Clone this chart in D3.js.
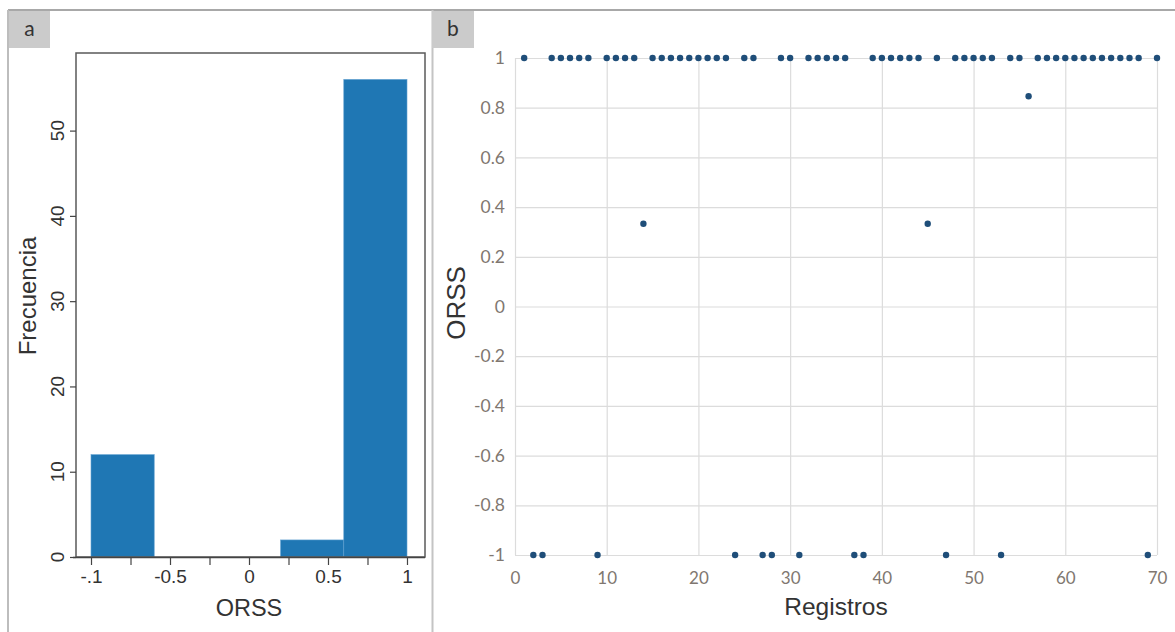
<!DOCTYPE html>
<html><head><meta charset="utf-8">
<script src="https://cdn.jsdelivr.net/npm/d3@7"></script>
<style>
html,body{margin:0;padding:0;background:#fff;}
svg{display:block;}
</style></head>
<body>
<svg id="c" width="1175" height="632"></svg>
<script>
// ---- data ----
const registros = d3.range(1, 71);
const orss = [1,-1,-1,1,1,1,1,1,-1,1,
              1,1,1,0.333,1,1,1,1,1,1,
              1,1,1,-1,1,1,-1,-1,1,1,
              -1,1,1,1,1,1,-1,-1,1,1,
              1,1,1,1,0.333,1,-1,1,1,1,
              1,1,-1,1,1,0.846,1,1,1,1,
              1,1,1,1,1,1,1,1,-1,1];
const histThresholds = [-0.6, -0.2, 0.2, 0.6];
const histXTicks = [-1,-0.75,-0.5,-0.25,0,0.25,0.5,0.75,1];
const histXLabels = {"-1":"-.1","-0.5":"-0.5","0":"0","0.5":"0.5","1":"1"};
const histYTicks = [0,10,20,30,40,50];
const scatYTicks = [-1,-0.8,-0.6,-0.4,-0.2,0,0.2,0.4,0.6,0.8,1];
const scatXTicks = [0,10,20,30,40,50,60,70];

const svg = d3.select("#c");

// ---- panel frames / tabs ----
svg.append("line").attr("x1",8).attr("x2",1175).attr("y1",10).attr("y2",10).attr("stroke","#a8a8a8").attr("stroke-width",2);
svg.append("line").attr("x1",8).attr("x2",8).attr("y1",10).attr("y2",632).attr("stroke","#bdbdbd").attr("stroke-width",2);
svg.append("line").attr("x1",432.5).attr("x2",432.5).attr("y1",10).attr("y2",632).attr("stroke","#c4c4c4").attr("stroke-width",2);
[["a",9,50],["b",432,474]].forEach(([t,x0,x1])=>{
  svg.append("rect").attr("x",x0).attr("y",11).attr("width",x1-x0).attr("height",37).attr("fill","#cbcbcb");
  svg.append("text").attr("x",(x0+x1)/2).attr("y",36).attr("text-anchor","middle")
    .attr("font-family","Lato, sans-serif").attr("font-size",21).attr("fill","#333").text(t);
});

// ---- panel a: histogram ----
const xA = d3.scaleLinear().domain([-1.095, 1.114]).range([76, 425]);
const yA = d3.scaleLinear().domain([0, 59.1]).range([557, 53]);
const bins = d3.bin().domain([-1, 1]).thresholds(histThresholds)(orss);
const gA = svg.append("g");
gA.selectAll("rect.bar").data(bins).join("rect").attr("class","bar")
  .attr("x", d => xA(d.x0)).attr("width", d => xA(d.x1) - xA(d.x0))
  .attr("y", d => yA(d.length)).attr("height", d => yA(0) - yA(d.length))
  .attr("fill", "#1f77b4").attr("stroke","#5e9fd0").attr("stroke-width",0.6);
// frame
gA.append("rect").attr("x",76).attr("y",53).attr("width",349).attr("height",504)
  .attr("fill","none").attr("stroke","#5a5a5a").attr("stroke-width",1.5);
// x axis
const axA = d3.axisBottom(xA).tickValues(histXTicks).tickSize(8).tickPadding(5)
  .tickFormat(d => histXLabels[String(d)] || "");
const gx = gA.append("g").attr("transform","translate(0,557)").call(axA);
gx.select(".domain").attr("stroke","#444").attr("stroke-width",1.6).attr("d","M73,0.5H425");
gx.selectAll(".tick line").attr("stroke","#444").attr("stroke-width",1.2);
gx.selectAll(".tick text").attr("font-family","'Liberation Sans', Arial, sans-serif").attr("font-size",19).attr("fill","#333");
// y axis
const ayA = d3.axisLeft(yA).tickValues(histYTicks).tickSize(6).tickFormat("");
const gy = gA.append("g").attr("transform","translate(76,0)").call(ayA);
gy.select(".domain").remove();
gy.selectAll(".tick line").attr("stroke","#444").attr("stroke-width",1.2);
gA.selectAll("text.ylab").data(histYTicks).join("text").attr("class","ylab")
  .attr("transform", d => `translate(64,${yA(d)}) rotate(-90)`)
  .attr("text-anchor","middle").attr("font-family","'Liberation Sans', Arial, sans-serif")
  .attr("font-size",19).attr("fill","#333").text(d => d);
gA.append("text").attr("x",249).attr("y",616).attr("text-anchor","middle")
  .attr("font-family","'Liberation Sans', Arial, sans-serif").attr("font-size",23.5).attr("fill","#333").text("ORSS");
gA.append("text").attr("transform","translate(36,296) rotate(-90)").attr("text-anchor","middle")
  .attr("font-family","'Liberation Sans', Arial, sans-serif").attr("font-size",24).attr("fill","#333").text("Frecuencia");

// ---- panel b: scatter ----
const xB = d3.scaleLinear().domain([0, 70]).range([515, 1157]);
const yB = d3.scaleLinear().domain([-1, 1]).range([555, 58]);
const gB = svg.append("g");
gB.append("g").selectAll("line").data(scatYTicks).join("line")
  .attr("x1",xB(0)).attr("x2",xB(70)).attr("y1",d=>yB(d)+0.5).attr("y2",d=>yB(d)+0.5)
  .attr("stroke","#dcdcdc").attr("stroke-width",1.2);
gB.append("g").selectAll("line").data(scatXTicks).join("line")
  .attr("y1",yB(1)).attr("y2",yB(-1)).attr("x1",d=>xB(d)+0.5).attr("x2",d=>xB(d)+0.5)
  .attr("stroke","#dcdcdc").attr("stroke-width",1.2);
const axB = d3.axisBottom(xB).tickValues(scatXTicks).tickSize(0).tickPadding(17).tickFormat(d3.format("d"));
const gbx = gB.append("g").attr("transform",`translate(0,${yB(-1)})`).call(axB);
gbx.select(".domain").remove();
gbx.selectAll("text").attr("font-family","Lato, sans-serif").attr("font-size",17).attr("fill","#807770");
const ayB = d3.axisLeft(yB).tickValues(scatYTicks).tickSize(0).tickPadding(10).tickFormat(d => String(d));
const gby = gB.append("g").attr("transform",`translate(${xB(0)},0)`).call(ayB);
gby.select(".domain").remove();
gby.selectAll("text").attr("font-family","Lato, sans-serif").attr("font-size",17.5).attr("fill","#807770");
gB.selectAll("circle").data(orss).join("circle")
  .attr("cx",(d,i)=>xB(registros[i])).attr("cy",d=>yB(d)).attr("r",3.2).attr("fill","#1f4e79");
gB.append("text").attr("x",836).attr("y",615).attr("text-anchor","middle")
  .attr("font-family","'Liberation Sans', Arial, sans-serif").attr("font-size",24.5).attr("fill","#333").text("Registros");
gB.append("text").attr("transform","translate(465,303) rotate(-90)").attr("text-anchor","middle")
  .attr("font-family","'Liberation Sans', Arial, sans-serif").attr("font-size",26).attr("fill","#333").text("ORSS");
</script>
</body></html>
